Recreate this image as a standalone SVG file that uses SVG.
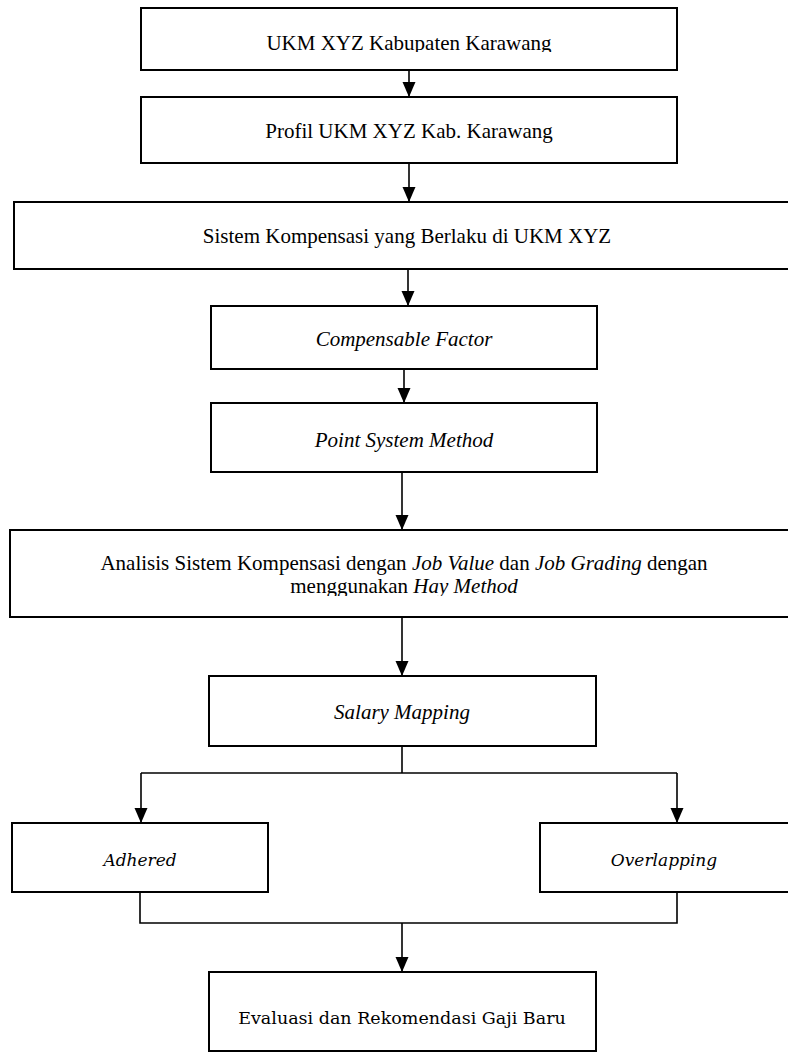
<svg xmlns="http://www.w3.org/2000/svg" width="788" height="1055" viewBox="0 0 788 1055">
<style>
.box{fill:#fff;stroke:#000;stroke-width:2}
.t{font-family:"Liberation Serif","Times New Roman",serif;font-size:21px;fill:#000;text-anchor:middle}
.i{font-style:italic}
.c{font-family:"DejaVu Serif",Cambria,serif;font-size:17px;fill:#000;text-anchor:middle}
.ln{fill:none;stroke:#000;stroke-width:1.6}
</style>
<defs>
<marker id="ah" markerUnits="userSpaceOnUse" markerWidth="16" markerHeight="14" refX="15" refY="6.5" orient="auto">
<path d="M0,0 L15,6.5 L0,13 z" fill="#000"/>
</marker>
<clipPath id="clip1"><rect x="141" y="8" width="536" height="44"/></clipPath>
<clipPath id="clip6"><rect x="10" y="530" width="778" height="66"/></clipPath>
</defs>
<rect width="788" height="1055" fill="#fff"/>
<g id="connectors">
<line class="ln" x1="409" y1="70" x2="409" y2="97" marker-end="url(#ah)"/>
<line class="ln" x1="409" y1="163" x2="409" y2="202" marker-end="url(#ah)"/>
<line class="ln" x1="408" y1="269" x2="408" y2="306" marker-end="url(#ah)"/>
<line class="ln" x1="404" y1="369" x2="404" y2="403" marker-end="url(#ah)"/>
<line class="ln" x1="402" y1="472" x2="402" y2="530" marker-end="url(#ah)"/>
<line class="ln" x1="402" y1="617" x2="402" y2="676" marker-end="url(#ah)"/>
<polyline class="ln" points="402,746 402,773"/>
<polyline class="ln" points="141,773 677,773"/>
<line class="ln" x1="141" y1="773" x2="141" y2="823" marker-end="url(#ah)"/>
<line class="ln" x1="677" y1="773" x2="677" y2="823" marker-end="url(#ah)"/>
<polyline class="ln" points="140,892 140,923 677,923 677,892"/>
<line class="ln" x1="402" y1="923" x2="402" y2="972" marker-end="url(#ah)"/>
</g>
<g id="n1">
<rect class="box" x="141" y="8" width="536" height="62"/>
<text class="t" x="409" y="50" clip-path="url(#clip1)">UKM XYZ Kabupaten Karawang</text>
</g>
<g id="n2">
<rect class="box" x="141" y="97" width="536" height="66"/>
<text class="t" x="409" y="138">Profil UKM XYZ Kab. Karawang</text>
</g>
<g id="n3">
<rect class="box" x="14" y="202" width="780" height="67"/>
<text class="t" x="407" y="243">Sistem Kompensasi yang Berlaku di UKM XYZ</text>
</g>
<g id="n4">
<rect class="box" x="211" y="306" width="386" height="63"/>
<text class="t i" x="404" y="346">Compensable Factor</text>
</g>
<g id="n5">
<rect class="box" x="211" y="403" width="386" height="69"/>
<text class="t i" x="404" y="447">Point System Method</text>
</g>
<g id="n6">
<rect class="box" x="10" y="530" width="784" height="87"/>
<text class="t" x="404" y="570">Analisis Sistem Kompensasi dengan  <tspan class="i">Job Value</tspan> dan <tspan class="i">Job Grading</tspan> dengan</text>
<text class="t" x="404" y="593" clip-path="url(#clip6)">menggunakan <tspan class="i">Hay Method</tspan></text>
</g>
<g id="n7">
<rect class="box" x="209" y="676" width="387" height="70"/>
<text class="t i" x="402" y="719">Salary Mapping</text>
</g>
<g id="n8">
<rect class="box" x="12" y="823" width="256" height="69"/>
<text class="c i" x="140" y="866">Adhered</text>
</g>
<g id="n9">
<rect class="box" x="540" y="823" width="254" height="69"/>
<text class="c i" x="664" y="866">Overlapping</text>
</g>
<g id="n10">
<rect class="box" x="209" y="972" width="387" height="79"/>
<text class="c" x="402" y="1024" style="font-size:17.5px">Evaluasi dan Rekomendasi Gaji Baru</text>
</g>
</svg>
